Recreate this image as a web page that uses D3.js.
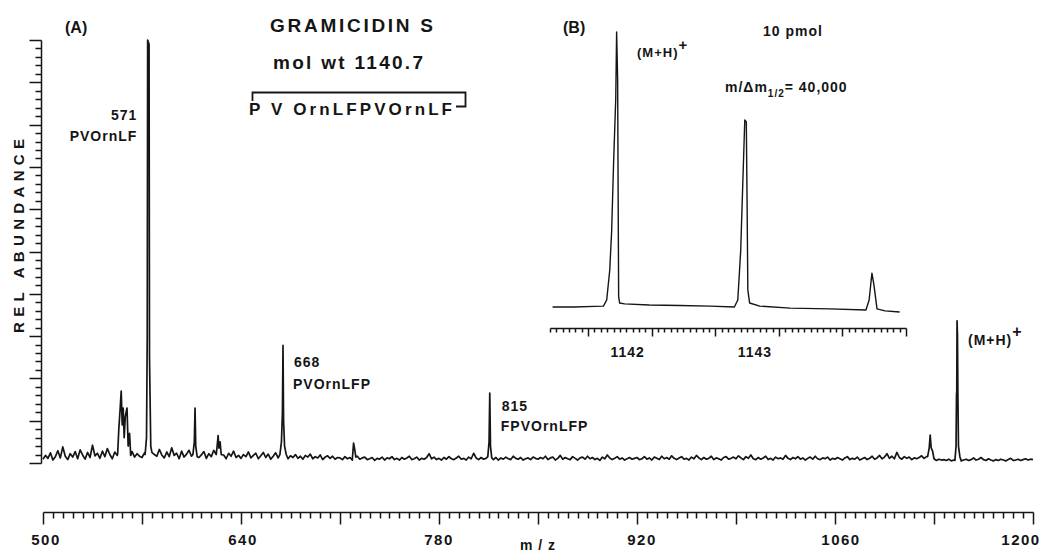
<!DOCTYPE html>
<html>
<head>
<meta charset="utf-8">
<script src="https://cdnjs.cloudflare.com/ajax/libs/d3/7.8.5/d3.min.js"></script>
<style>
    body { margin: 0; background: #fff; }
    svg text { font-family: "Liberation Sans", Arial, sans-serif; font-weight: bold; fill: #151515; }
</style>
</head>
<body>
<div id="chart"></div>
<script>
// (A) main spectrum: baseline read every 1.75 m/z from 500, in % rel. abundance
var noiseStart = 500;
var noiseStep = 1.75;
var noise = [
    0.9, 1.8, 1.1, 2.4, 0.7, 1.5, 2.9, 1.2, 3.8, 1.6, 0.8, 2.2, 1.4, 2.7, 1.0, 3.1, 1.9, 0.9, 2.5, 1.3,
    4.2, 1.7, 2.3, 1.1, 2.8, 1.5, 3.4, 2.0, 1.0, 2.6, 1.8, 3.3, 1.2, 2.1, 0.8, 1.9, 2.7, 1.4, 2.2, 1.6,
    1.3, 2.4, 1.7, 2.9, 1.1, 2.0, 1.6, 3.2, 1.9, 1.2, 2.6, 1.5, 3.6, 1.8, 2.3, 1.0, 2.8, 1.4, 2.1, 3.0,
    1.6, 0.9, 2.5, 1.3, 1.9, 2.7, 1.1, 2.2, 1.5, 3.0, 1.7, 1.2, 2.4, 1.9, 1.0, 2.3, 1.6, 2.8, 1.3, 1.8,
    1.1, 2.0, 1.5, 2.6, 1.2, 1.8, 2.3, 1.0, 1.7, 2.5, 1.3, 2.1, 0.9, 1.6, 2.4, 1.2, 1.9, 1.4, 2.2, 1.0,
    1.7, 1.3, 2.0, 1.1, 1.6, 0.9, 1.8, 1.4, 2.1, 1.0, 1.5, 1.2, 1.9, 0.8, 1.4, 1.7, 1.1, 1.6, 0.9, 1.3,
    1.2, 0.8, 1.5, 1.0, 1.3, 0.7, 1.1, 1.6, 0.9, 1.2, 1.4, 0.8, 1.0, 1.3, 0.6, 1.1, 0.9, 1.4, 0.7, 1.2,
    1.0, 1.5, 0.8, 1.1, 0.7, 1.3, 0.9, 1.2, 1.6, 0.8, 1.0, 1.4, 0.7, 1.1, 0.9, 1.3, 2.2, 1.0, 1.4, 0.8,
    1.1, 0.7, 1.3, 0.9, 1.5, 1.0, 0.8, 1.2, 1.6, 0.9, 1.1, 0.7, 1.4, 1.0, 2.3, 1.2, 0.8, 1.3, 0.9, 1.1,
    1.5, 1.0, 0.8, 1.3, 0.7, 1.2, 0.9, 1.4, 1.0, 0.8, 1.6, 1.1, 0.9, 1.3, 0.7, 1.0, 1.2, 0.8, 1.4, 1.1,
    0.9, 1.3, 1.0, 1.6, 0.8, 1.2, 1.4, 0.7, 1.1, 1.8, 0.9, 1.3, 1.0, 0.8, 1.5, 1.1, 0.7, 1.2, 1.4, 0.9,
    1.6, 1.0, 1.3, 0.8, 1.1, 0.6, 1.4, 1.0, 1.9, 1.2, 0.8, 1.1, 1.5, 0.9, 1.2, 0.7, 1.0, 1.3, 0.9, 1.1,
    1.3, 0.8, 1.0, 1.5, 0.9, 1.2, 0.7, 1.4, 1.1, 0.8, 1.6, 1.0, 1.3, 0.9, 1.7, 1.1, 0.8, 1.2, 1.5, 0.9,
    1.1, 0.7, 1.4, 1.0, 1.8, 1.2, 0.8, 1.3, 0.9, 1.1, 1.6, 0.8, 1.2, 1.0, 0.7, 1.3, 1.5, 0.9, 1.1, 1.4,
    1.0, 1.7, 1.2, 0.8, 1.5, 1.1, 1.9, 1.0, 0.8, 1.3, 0.9, 1.2, 1.6, 0.8, 1.1, 0.7, 1.4, 1.0, 1.2, 0.9,
    1.8, 1.1, 0.8, 1.3, 1.0, 1.5, 0.9, 1.2, 0.7, 1.1, 1.4, 0.9, 1.6, 1.0, 0.8, 1.2, 1.0, 1.4, 0.7, 1.1,
    0.9, 1.3, 1.0, 0.7, 1.2, 1.5, 0.8, 1.1, 0.9, 1.4, 0.7, 1.0, 1.3, 0.8, 1.1, 1.6, 0.9, 1.2, 1.8, 1.0,
    1.4, 2.2, 1.1, 1.6, 1.0, 2.5, 1.3, 0.9, 1.5, 1.1, 1.4, 0.8, 1.2, 1.0, 1.3, 1.7, 1.1, 1.5, 1.2, 1.0,
    0.8, 0.6, 0.9, 0.7, 0.8, 0.6, 0.9, 0.5, 0.7, 0.6, 0.8, 0.5, 0.7, 0.9, 0.6, 0.8, 1.2, 0.7, 0.9, 1.3,
    0.8, 0.6, 1.0, 0.7, 0.5, 0.8, 0.6, 0.9, 0.7, 0.5, 0.8, 1.1, 0.6, 0.7, 0.9, 0.6, 0.8, 1.0, 0.7, 0.9,
    0.8
];

// peaks as [m/z, %] points
var peak556 = [[552.8, 2.2], [553.6, 8], [554.4, 12], [555.3, 17], [556, 9], [556.7, 13], [557.4, 6], [558.2, 11], [559.4, 13], [560.2, 4], [561.2, 7], [562, 1.8]];
var peak571 = [[572.2, 2], [573.2, 6], [573.7, 30], [574, 100], [575, 99], [575.3, 25], [576.2, 4], [577, 2.5]];
var peak606 = [[606, 2], [607, 5], [607.5, 13], [608, 4], [609, 1.5]];
var peak622 = [[622.5, 2], [623.3, 4.5], [623.8, 6.5], [624.4, 3.5], [625.2, 5], [626, 2]];
var peak668 = [[667.5, 2], [668.6, 5], [669.3, 12], [669.7, 27.8], [670.1, 10], [670.8, 4], [672, 2]];
var peak720 = [[718.8, 1.2], [719.6, 4.7], [720.4, 3.2], [721.2, 1.4]];
var peak815 = [[814.5, 1.5], [815.4, 5], [815.9, 16.5], [816.4, 4], [817.3, 1.2]];
var peak1123 = [[1125.5, 1.5], [1126.6, 3.5], [1127.3, 6.6], [1128, 3.6], [1129, 2.8], [1130, 1]];
var peakMH = [[1144.8, 0.6], [1145.6, 4], [1145.9, 16], [1146.1, 17], [1146.3, 33.6], [1146.6, 30], [1146.9, 16], [1147.3, 4], [1148.3, 1.5]];
var peaks = [peak556, peak571, peak606, peak622, peak668, peak720, peak815, peak1123, peakMH];

var xTickLabels = [500, 640, 780, 920, 1060, 1200];

// (B) inset: (M+H)+ isotope cluster, [m/z, %]
var insetTrace = [
    [1141.22, 1.8], [1141.39, 1.8], [1141.55, 2.0], [1141.62, 2.1], [1141.646, 4.3], [1141.67, 15],
    [1141.685, 29], [1141.70, 53], [1141.717, 76], [1141.724, 100], [1141.732, 83], [1141.736, 41],
    [1141.74, 5.4], [1141.748, 3.2], [1141.787, 2.9], [1141.98, 2.5], [1142.22, 2.3], [1142.46, 2.1],
    [1142.65, 1.8], [1142.677, 4.3], [1142.70, 22], [1142.717, 47], [1142.732, 68.6], [1142.744, 68],
    [1142.75, 40], [1142.756, 7.9], [1142.77, 3.2], [1142.85, 2.1], [1143.09, 1.4], [1143.40, 1.1],
    [1143.685, 0.7], [1143.71, 4.3], [1143.732, 13.9], [1143.748, 9.6], [1143.772, 1.1], [1143.835, 0.4],
    [1143.95, 0]
];
var insetTickLabels = [1142, 1143];

var width = 1047, height = 555;
var ink = '#151515';

var svg = d3.select('#chart').append('svg')
    .attr('width', width)
    .attr('height', height);

// scales
var x = d3.scaleLinear().domain([500, 1200]).range([43, 1033]);
var y = d3.scaleLinear().domain([0, 100]).range([463, 40]);
var xi = d3.scaleLinear().domain([1141.2, 1144]).range([550, 906]);
var yi = d3.scaleLinear().domain([0, 100]).range([312, 32]);

function crisp(v) { return Math.round(v) + 0.5; }

// horizontal axis drawn as one path: line + ticks hanging down
function hAxis(scale, y0, minor, major, minorLen, majorLen) {
    var d = 'M' + crisp(scale.range()[0]) + ',' + y0 + 'H' + crisp(scale.range()[1]);
    minor.forEach(function (v) { d += 'M' + crisp(scale(v)) + ',' + y0 + 'v' + minorLen; });
    major.forEach(function (v) { d += 'M' + crisp(scale(v)) + ',' + y0 + 'v' + majorLen; });
    svg.append('path')
        .attr('d', d)
        .attr('fill', 'none')
        .attr('stroke', ink)
        .attr('stroke-width', 1.5);
}

// vertical axis with ticks to the left
function vAxis(scale, x0, minor, major, minorLen, majorLen) {
    var d = 'M' + x0 + ',' + crisp(scale.range()[0]) + 'V' + crisp(scale.range()[1]);
    minor.forEach(function (v) { d += 'M' + x0 + ',' + crisp(scale(v)) + 'h' + (-minorLen); });
    major.forEach(function (v) { d += 'M' + x0 + ',' + crisp(scale(v)) + 'h' + (-majorLen); });
    svg.append('path')
        .attr('d', d)
        .attr('fill', 'none')
        .attr('stroke', ink)
        .attr('stroke-width', 1.5);
}

// merge baseline with peaks
var spectrum = [];
noise.forEach(function (v, i) {
    var mz = noiseStart + i * noiseStep;
    var inPeak = peaks.some(function (p) { return mz >= p[0][0] && mz <= p[p.length - 1][0]; });
    if (!inPeak) spectrum.push([mz, v]);
});
peaks.forEach(function (p) { spectrum = spectrum.concat(p); });
spectrum.sort(function (a, b) { return a[0] - b[0]; });

var line = d3.line()
    .x(function (d) { return x(d[0]); })
    .y(function (d) { return y(d[1]); });

svg.append('path')
    .datum(spectrum)
    .attr('d', line)
    .attr('fill', 'none')
    .attr('stroke', ink)
    .attr('stroke-width', 1.7)
    .attr('stroke-linejoin', 'round');

// x axis (minor every 7, major every 70)
var xMinor = d3.range(0, 101).map(function (i) { return 500 + i * 7; });
var xMajor = d3.range(0, 11).map(function (i) { return 500 + i * 70; });
hAxis(x, 512.5, xMinor, xMajor, 6, 12);

var labelShift = {500: 3, 640: 2, 780: 0, 920: 5, 1060: 6, 1200: -12};
svg.selectAll('.xlab')
    .data(xTickLabels)
    .enter()
    .append('text')
    .attr('class', 'xlab')
    .attr('x', function (d) { return x(d) + labelShift[d]; })
    .attr('y', 545)
    .attr('text-anchor', 'middle')
    .style('font-size', '15px')
    .style('letter-spacing', '1.5px')
    .text(function (d) { return d; });

svg.append('text')
    .attr('x', 538)
    .attr('y', 550)
    .attr('text-anchor', 'middle')
    .style('font-size', '14px')
    .style('letter-spacing', '1px')
    .text('m / z');

// y axis (minor every 2, major every 10)
var yMinor = d3.range(0, 51).map(function (i) { return i * 2; });
var yMajor = d3.range(0, 11).map(function (i) { return i * 10; });
vAxis(y, 41.5, yMinor, yMajor, 6, 12);

svg.append('text')
    .attr('transform', 'translate(24,236) rotate(-90)')
    .attr('text-anchor', 'middle')
    .style('font-size', '15px')
    .attr('textLength', 194)
    .attr('lengthAdjust', 'spacing')
    .text('REL  ABUNDANCE');

// panel A annotations
svg.append('text').attr('x', 65).attr('y', 33).style('font-size', '16px').text('(A)');

svg.append('text')
    .attr('x', 270).attr('y', 32)
    .style('font-size', '19px')
    .attr('textLength', 163).attr('lengthAdjust', 'spacing')
    .text('GRAMICIDIN  S');
svg.append('text')
    .attr('x', 273).attr('y', 69)
    .style('font-size', '19px')
    .attr('textLength', 150).attr('lengthAdjust', 'spacing')
    .text('mol wt  1140.7');

svg.append('path')
    .attr('d', 'M252.5,101V92.5H465.5V106.5H456')
    .attr('fill', 'none')
    .attr('stroke', ink)
    .attr('stroke-width', 1.8);
svg.append('text')
    .attr('x', 249).attr('y', 115)
    .style('font-size', '17px')
    .attr('textLength', 203).attr('lengthAdjust', 'spacing')
    .text('P V OrnLFPVOrnLF');

var fragLabels = [
    {mz: 574.5, num: '571', seq: 'PVOrnLF', anchor: 'end', dx: -11, y1: 120, y2: 141},
    {mz: 669.7, num: '668', seq: 'PVOrnLFP', anchor: 'start', dx: 11, y1: 367, y2: 389},
    {mz: 815.9, num: '815', seq: 'FPVOrnLFP', anchor: 'start', dx: 12, y1: 411, y2: 431}
];

fragLabels.forEach(function (f) {
    svg.append('text')
        .attr('x', x(f.mz) + f.dx).attr('y', f.y1)
        .attr('text-anchor', f.anchor)
        .style('font-size', '14px')
        .style('letter-spacing', '1px')
        .text(f.num);
    svg.append('text')
        .attr('x', x(f.mz) + (f.anchor === 'start' ? f.dx - 1 : f.dx)).attr('y', f.y2)
        .attr('text-anchor', f.anchor)
        .style('font-size', '14px')
        .style('letter-spacing', '1px')
        .text(f.seq);
});

var mh = svg.append('text')
    .attr('x', 968).attr('y', 345)
    .style('font-size', '14px')
    .style('letter-spacing', '1px');
mh.append('tspan').text('(M+H)');
mh.append('tspan').attr('dy', -8).style('font-size', '16px').text('+');

// panel B inset
svg.append('text').attr('x', 563).attr('y', 33).style('font-size', '16px').text('(B)');

var insetLine = d3.line()
    .x(function (d) { return xi(d[0]); })
    .y(function (d) { return yi(d[1]); });

svg.append('path')
    .datum(insetTrace)
    .attr('d', insetLine)
    .attr('fill', 'none')
    .attr('stroke', ink)
    .attr('stroke-width', 1.4)
    .attr('stroke-linejoin', 'round');

var xiMinor = d3.range(0, 57).map(function (i) { return 1141.2 + i * 0.05; });
var xiMajor = d3.range(0, 6).map(function (i) { return 1141.5 + i * 0.5; });
hAxis(xi, 328.5, xiMinor, xiMajor, 4, 8);

svg.selectAll('.xilab')
    .data(insetTickLabels)
    .enter()
    .append('text')
    .attr('class', 'xilab')
    .attr('x', function (d) { return xi(d) - 24; })
    .attr('y', 357)
    .attr('text-anchor', 'middle')
    .style('font-size', '14px')
    .style('letter-spacing', '1px')
    .text(function (d) { return d; });

var mhi = svg.append('text')
    .attr('x', 637).attr('y', 57)
    .style('font-size', '13px')
    .style('letter-spacing', '1px');
mhi.append('tspan').text('(M+H)');
mhi.append('tspan').attr('dy', -7).style('font-size', '15px').text('+');

svg.append('text')
    .attr('x', 763).attr('y', 36)
    .style('font-size', '14px')
    .style('letter-spacing', '1px')
    .text('10 pmol');

var res = svg.append('text')
    .attr('x', 725).attr('y', 92)
    .style('font-size', '14px')
    .style('letter-spacing', '1px');
res.append('tspan').text('m/Δm');
res.append('tspan').attr('dy', 5).style('font-size', '10px').text('1/2');
res.append('tspan').attr('dy', -5).text('= 40,000');
</script>
</body>
</html>
